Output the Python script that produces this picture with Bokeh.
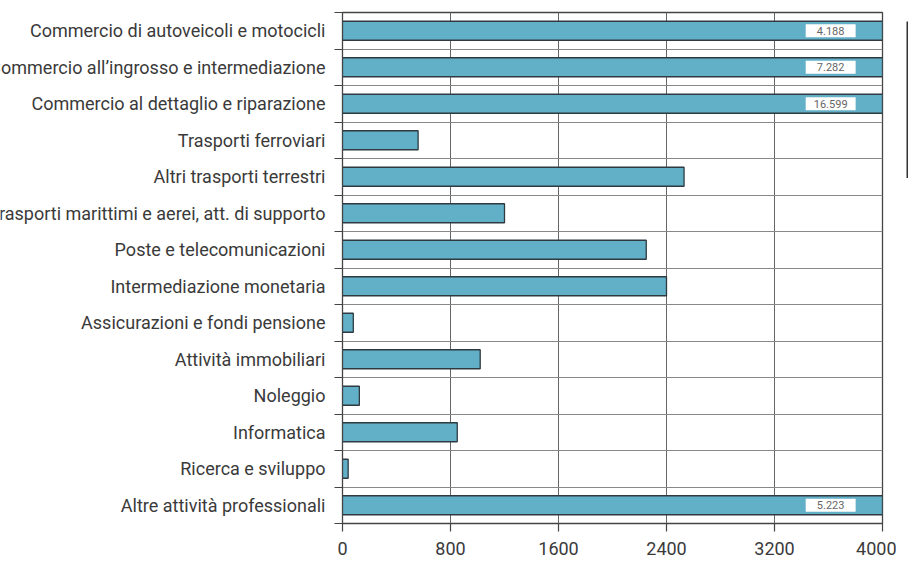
from bokeh.plotting import figure
from bokeh.layouts import row
from bokeh.core.properties import value
from bokeh.models import ColumnDataSource, Range1d, FixedTicker
from bokeh.embed import file_html
from bokeh.resources import INLINE
import numpy as np

categories = [
    "Commercio di autoveicoli e motocicli",
    "Commercio all\u2019ingrosso e intermediazione",
    "Commercio al dettaglio e riparazione",
    "Trasporti ferroviari",
    "Altri trasporti terrestri",
    "Trasporti marittimi e aerei, att. di supporto",
    "Poste e telecomunicazioni",
    "Intermediazione monetaria",
    "Assicurazioni e fondi pensione",
    "Attivit\u00e0 immobiliari",
    "Noleggio",
    "Informatica",
    "Ricerca e sviluppo",
    "Altre attivit\u00e0 professionali",
]
values = [4188, 7282, 16599, 560, 2530, 1200, 2250, 2400, 80, 1020, 125, 850, 42, 5223]
x_ticks = [0, 800, 1600, 2400, 3200, 4000]
XMAX = 4000

FONT = "Roboto"
TXT = "#3a3a3a"
BAR = "#62afc8"
H = 562
TOP, BOTTOM = 12, 39

n = len(categories)
ypos = np.arange(n) + 0.5
yr = Range1d(n, 0)
src = ColumnDataSource(dict(cat=categories, val=values, y=ypos,
                            x0=[0] * n, one=[1] * n))

over = [i for i, v in enumerate(values) if v > XMAX]
osrc = ColumnDataSource(dict(
    y=[ypos[i] for i in over],
    x=[XMAX * 0.904] * len(over),
    lab=[f"{values[i]:,}".replace(",", ".") for i in over],
))

# ---- left panel with category names (clipped at left edge like the reference)
pl = figure(width=326, height=H, output_backend="svg", toolbar_location=None,
            x_range=Range1d(0, 1), y_range=yr,
            x_axis_location=None, y_axis_location=None,
            min_border_left=0, min_border_right=0,
            min_border_top=TOP, min_border_bottom=BOTTOM)
pl.outline_line_color = None
pl.grid.visible = False
pl.text(x="one", y="y", text="cat", source=src, text_align="right",
        text_baseline="middle", x_offset=-1,
        text_font=value(FONT), text_font_size="18px", text_color=TXT)

# ---- main chart
p = figure(width=570, height=H, output_backend="svg", toolbar_location=None,
           x_range=Range1d(0, XMAX), y_range=yr,
           min_border_left=16, min_border_right=14,
           min_border_top=TOP, min_border_bottom=BOTTOM)

p.outline_line_color = "#444444"
p.outline_line_width = 1.3

p.xaxis.ticker = FixedTicker(ticks=x_ticks)
p.yaxis.ticker = FixedTicker(ticks=list(range(n + 1)))
p.xgrid.grid_line_color = "#666666"
p.xgrid.grid_line_width = 1
p.ygrid.grid_line_color = "#888888"
p.ygrid.grid_line_width = 1

for ax in (p.xaxis[0], p.yaxis[0]):
    ax.axis_line_color = "#444444"
    ax.major_tick_line_color = "#444444"
    ax.major_tick_line_width = 1.2
    ax.major_tick_in = 0
    ax.major_tick_out = 8
    ax.minor_tick_line_color = None
p.xaxis.major_label_text_font = FONT
p.xaxis.major_label_text_font_size = "18px"
p.xaxis.major_label_text_color = TXT
p.xaxis.major_label_standoff = 10
p.yaxis.major_label_text_color = None
p.yaxis.major_label_text_font_size = "1px"
p.yaxis.major_label_standoff = 0

p.hbar(y="y", left="x0", right="val", height=0.52, source=src,
       fill_color=BAR, line_color="#2e3a40", line_width=1.3)

p.rect(x="x", y="y", width=370, height=0.36, source=osrc,
       fill_color="white", line_color=None)
p.text(x="x", y="y", text="lab", source=osrc, text_align="center",
       text_baseline="middle", text_font_size="11px", text_color="#666666",
       text_font=value(FONT))

# ---- right strip: edge of a legend box cut by the picture border
pr = figure(width=12, height=H, output_backend="svg", toolbar_location=None,
            x_range=Range1d(0, 12), y_range=Range1d(H, 0),
            x_axis_location=None, y_axis_location=None,
            min_border_left=0, min_border_right=0,
            min_border_top=0, min_border_bottom=0)
pr.outline_line_color = None
pr.grid.visible = False
pr.segment(x0=[11], y0=[10], x1=[11], y1=[182], line_color="#333333",
           line_width=2)

layout = row(pl, p, pr, spacing=0)
open("out.html", "w").write(file_html(layout, INLINE))
